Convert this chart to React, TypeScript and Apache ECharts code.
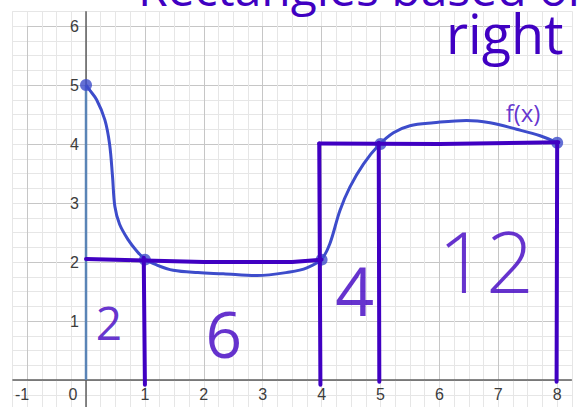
import React, { useEffect, useRef } from "react";
import * as echarts from "echarts";

// ---- data ----
const xTickValues = [-1, 0, 1, 2, 3, 4, 5, 6, 7, 8];
const xTickLabels = ["-1", "0", "1", "2", "3", "4", "5", "6", "7", "8"];
const yTickValues = [1, 2, 3, 4, 5, 6];
const yTickLabels = ["1", "2", "3", "4", "5", "6"];

// hand-drawn f(x)
const curveX = [0, 0.05, 0.18, 0.32, 0.4, 0.45, 0.49, 0.57, 0.72, 0.85, 1, 1.2, 1.48, 1.9, 2.33, 2.9, 3.46, 3.75, 4, 4.14, 4.31, 4.48, 4.71, 4.96, 5.22, 5.5, 5.9, 6.46, 6.86, 7.31, 7.71, 8];
const curveY = [5, 4.93, 4.75, 4.41, 4.0, 3.45, 2.94, 2.64, 2.37, 2.2, 2.05, 1.95, 1.86, 1.82, 1.8, 1.77, 1.83, 1.9, 2.05, 2.31, 2.87, 3.27, 3.66, 3.97, 4.19, 4.31, 4.36, 4.4, 4.36, 4.25, 4.14, 4.02];

// marked points on f(x)
const pointX = [0, 1, 4, 5, 8];
const pointY = [5, 2.04, 2.04, 4, 4.02];

// vertical Desmos segment x=0, 0..5
const segX = [0, 0];
const segY = [0, 5];

// purple rectangle strokes (x list, y list)
const strokeXs = [
  [0, 2, 3.5, 4],
  [0.98, 1.0],
  [3.96, 3.98],
  [3.96, 6, 8.02],
  [4.97, 4.98],
  [8.0, 7.99],
];
const strokeYs = [
  [2.05, 2.0, 2.0, 2.04],
  [2.07, -0.08],
  [4.01, -0.08],
  [4.01, 4.0, 4.03],
  [4.02, -0.03],
  [4.03, -0.03],
];

// handwritten annotations (areas and f(x) label)
const noteTexts = ["2", "6", "4", "12", "f(x)"];
const noteX = [0.39, 2.34, 4.56, 6.79, 7.42];
const noteY = [0.99, 0.79, 1.53, 2.03, 4.53];

const titleLine1 = "Rectangles based on";
const titleLine2 = "right";

const PURPLE = "#4000c2";
const BLUE = "#3d4ccb";

export default function App() {
  const ref = useRef<HTMLDivElement>(null);
  useEffect(() => {
    if (!ref.current) return;
    const chart = echarts.init(ref.current, null, { renderer: "svg" });
    const labelFont = { fontFamily: "Arial, 'Liberation Sans', sans-serif", fontSize: 16, color: "#3c3c3c" };
    const noteSizes = [46, 64, 68, 84, 24];
    const noteWeights = [400, 400, 400, 300, 400];
    const handFont = "'Open Sans', 'Noto Sans', sans-serif";

    const xFmt = (v: number) => {
      const i = xTickValues.findIndex((t) => Math.abs(t - v) < 1e-6);
      if (i < 0) return "";
      const t = xTickValues[i];
      if (t === 0) return "{z|" + xTickLabels[i] + "}";
      if (t < 0) return "{n|" + xTickLabels[i] + "}";
      return xTickLabels[i];
    };
    const yFmt = (v: number) => {
      const i = yTickValues.findIndex((t) => Math.abs(t - v) < 1e-6);
      return i < 0 ? "" : yTickLabels[i];
    };

    const series: any[] = [];
    // axis lines
    series.push({
      type: "line", data: [[-1.25, 0], [8.25, 0]], symbol: "none", z: 1, silent: true,
      lineStyle: { color: "#5e5e5e", width: 1.5 },
    });
    series.push({
      type: "line", data: [[0, -0.5], [0, 6.25]], symbol: "none", z: 1, silent: true,
      lineStyle: { color: "#5e5e5e", width: 1.5 },
    });
    series.push({
      type: "line", data: segX.map((x, i) => [x, segY[i]]), symbol: "none", z: 2,
      lineStyle: { color: "#5a84b6", width: 2.5 },
    });
    series.push({
      type: "line", data: curveX.map((x, i) => [x, curveY[i]]), symbol: "none", smooth: 0.35, z: 3,
      lineStyle: { color: BLUE, width: 3 },
    });
    series.push({
      type: "scatter", data: pointX.map((x, i) => [x, pointY[i]]), symbolSize: 12, z: 3,
      itemStyle: { color: BLUE },
    });
    strokeXs.forEach((xs, k) => {
      series.push({
        type: "line", data: xs.map((x, i) => [x, strokeYs[k][i]]), symbol: "none", z: 4,
        lineStyle: { color: PURPLE, width: 4, cap: "round", join: "round" },
      });
    });
    series.push({
      type: "scatter", symbolSize: 0, z: 5, clip: false,
      data: noteTexts.map((t, i) => ({
        value: [noteX[i], noteY[i]],
        name: t,
        label: { fontSize: noteSizes[i], fontWeight: noteWeights[i] },
      })),
      label: {
        show: true, position: "inside", formatter: (p: any) => p.name,
        color: PURPLE, fontFamily: handFont,
      },
    });

    chart.setOption({
      animation: false,
      backgroundColor: "#ffffff",
      grid: [
        { left: 12.4, right: 10.1, top: 11.25, bottom: 0.5, outerBoundsMode: "none", containLabel: false },
        { left: 27.1, right: 24.8, top: 26, bottom: 30, outerBoundsMode: "none", containLabel: false },
        { left: 86, right: 10.1, top: 26, bottom: 30, outerBoundsMode: "none", containLabel: false },
      ],
      xAxis: [
        {
          gridIndex: 0, type: "value", min: -1.25, max: 8.25, interval: 0.25,
          splitLine: { show: true, lineStyle: { color: "#e6e6e6", width: 1 } },
          axisLine: { show: false }, axisTick: { show: false }, axisLabel: { show: false },
        },
        {
          gridIndex: 1, type: "value", min: -1, max: 8, interval: 1, position: "bottom",
          splitLine: { show: true, lineStyle: { color: "#c6c6c6", width: 1 } },
          axisLine: { show: false, onZero: false }, axisTick: { show: false },
          axisLabel: {
            ...labelFont, margin: 6, formatter: xFmt, showMinLabel: true, showMaxLabel: true,
            rich: {
              z: { ...labelFont, padding: [0, 26, 0, 0] },
              n: { ...labelFont, padding: [0, 10, 0, 0] },
            },
          },
        },
        {
          gridIndex: 2, type: "value", min: 0, max: 1, show: false,
        },
      ],
      yAxis: [
        {
          gridIndex: 0, type: "value", min: -0.5, max: 6.25, interval: 0.25,
          splitLine: { show: true, lineStyle: { color: "#e6e6e6", width: 1 } },
          axisLine: { show: false }, axisTick: { show: false }, axisLabel: { show: false },
        },
        {
          gridIndex: 1, type: "value", min: 0, max: 6, interval: 1,
          splitLine: { show: true, lineStyle: { color: "#c6c6c6", width: 1 } },
          axisLine: { show: false, onZero: false }, axisTick: { show: false }, axisLabel: { show: false },
        },
        {
          gridIndex: 2, type: "value", min: 0, max: 6, interval: 1, position: "left",
          splitLine: { show: false },
          axisLine: { show: false, onZero: false }, axisTick: { show: false },
          axisLabel: { ...labelFont, margin: 7, formatter: yFmt, showMinLabel: true, showMaxLabel: true },
        },
      ],
      series,
      graphic: [
        {
          type: "text", x: 138, y: -12.6, z: 10,
          style: {
            text: titleLine1, fill: PURPLE, fontSize: 48, fontWeight: 400, lineHeight: 38,
            fontFamily: handFont, verticalAlign: "middle", align: "left",
          },
        },
        {
          type: "text", x: 446, y: 33, z: 10,
          style: {
            text: titleLine2, fill: PURPLE, fontSize: 54, fontWeight: 400, lineHeight: 46,
            fontFamily: handFont, verticalAlign: "middle", align: "left",
          },
        },
      ],
    });
    return () => chart.dispose();
  }, []);

  return (
    <div style={{ position: "fixed", left: 0, top: 0, width: 582, height: 407, overflow: "hidden", background: "#fff" }}>
      <div ref={ref} style={{ width: 582, height: 410 }} />
    </div>
  );
}
